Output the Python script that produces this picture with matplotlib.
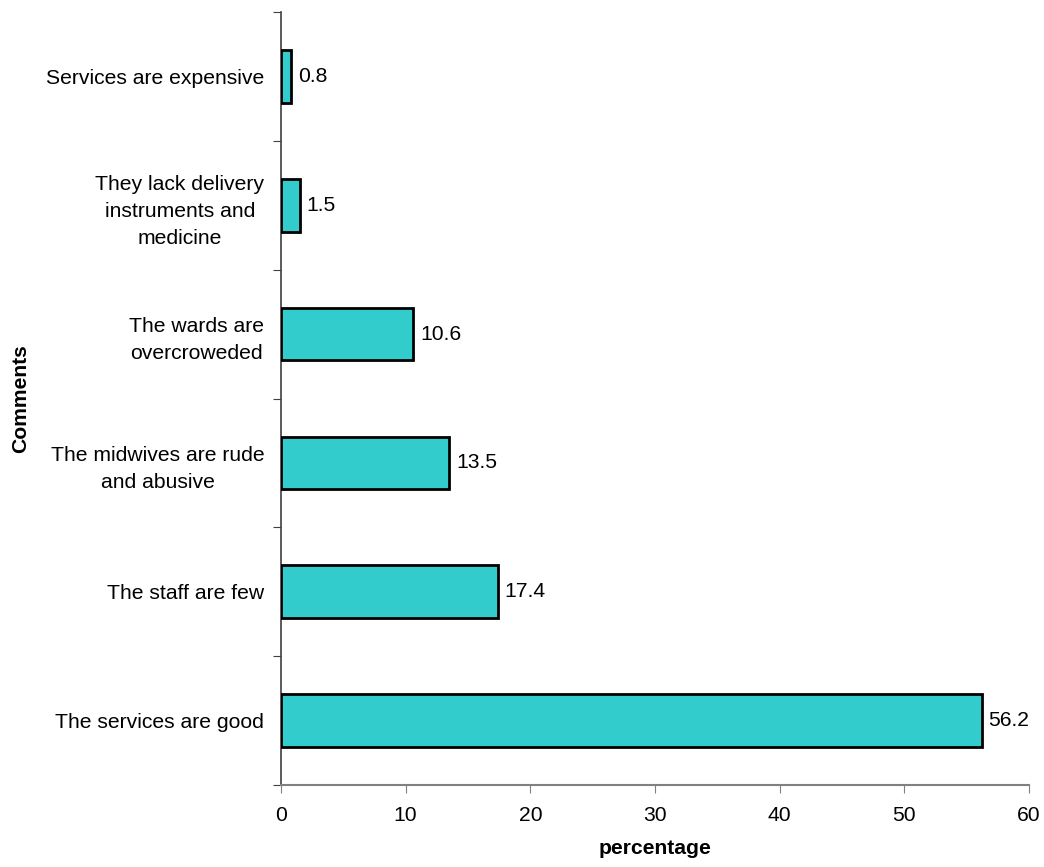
import matplotlib
matplotlib.use("Agg")
import matplotlib.pyplot as plt
import numpy as np

plt.rcParams["font.family"] = ["Liberation Sans", "DejaVu Sans"]

# data, bottom to top
comments = [
    "The services are good",
    "The staff are few",
    "The midwives are rude\nand abusive",
    "The wards are\novercroweded",
    "They lack delivery\ninstruments and\nmedicine",
    "Services are expensive",
]
percentages = [56.2, 17.4, 13.5, 10.6, 1.5, 0.8]
x_ticks = [0, 10, 20, 30, 40, 50, 60]

fs = 15.2

fig = plt.figure(figsize=(10.44, 8.67), dpi=100)
ax = fig.add_axes([281 / 1044, 1 - 785 / 867, (1029 - 281) / 1044, (785 - 12) / 867])

pos = np.arange(len(comments))
ax.barh(pos, percentages, height=0.41, color="#33CCCC", edgecolor="black", linewidth=2, zorder=3)

# value labels
for p, v in zip(pos, percentages):
    ax.annotate(f"{v}", (v, p), xytext=(5, 0), textcoords="offset points",
                va="center", ha="left", fontsize=fs)

ax.set_xlim(0, 60)
ax.set_ylim(-0.5, len(comments) - 0.5)
ax.set_xticks(x_ticks)
ax.set_xticklabels([str(t) for t in x_ticks], fontsize=fs)

# tick marks between categories, labels at centres
ax.set_yticks(np.arange(-0.5, len(comments), 1.0))
ax.set_yticklabels([])
ax.set_yticks(pos, minor=True)
ax.set_yticklabels(comments, minor=True, fontsize=fs, multialignment="center", linespacing=1.55)
ax.tick_params(axis="y", which="major", length=6, direction="out", color="#404040")
ax.tick_params(axis="y", which="minor", length=0, pad=12)
ax.tick_params(axis="x", length=6, direction="out", color="#808080", pad=9)

for s in ["top", "right"]:
    ax.spines[s].set_visible(False)
ax.spines["left"].set_color("#404040")
ax.spines["bottom"].set_color("#808080")
ax.spines["left"].set_linewidth(1.2)
ax.spines["bottom"].set_linewidth(1.5)

ax.set_xlabel("percentage", fontsize=fs, fontweight="bold", labelpad=10)
ax.set_ylabel("Comments", fontsize=fs, fontweight="bold")
ax.yaxis.set_label_coords(-(281 - 30) / 748, 0.5)

fig.savefig("out.png", dpi=100)
